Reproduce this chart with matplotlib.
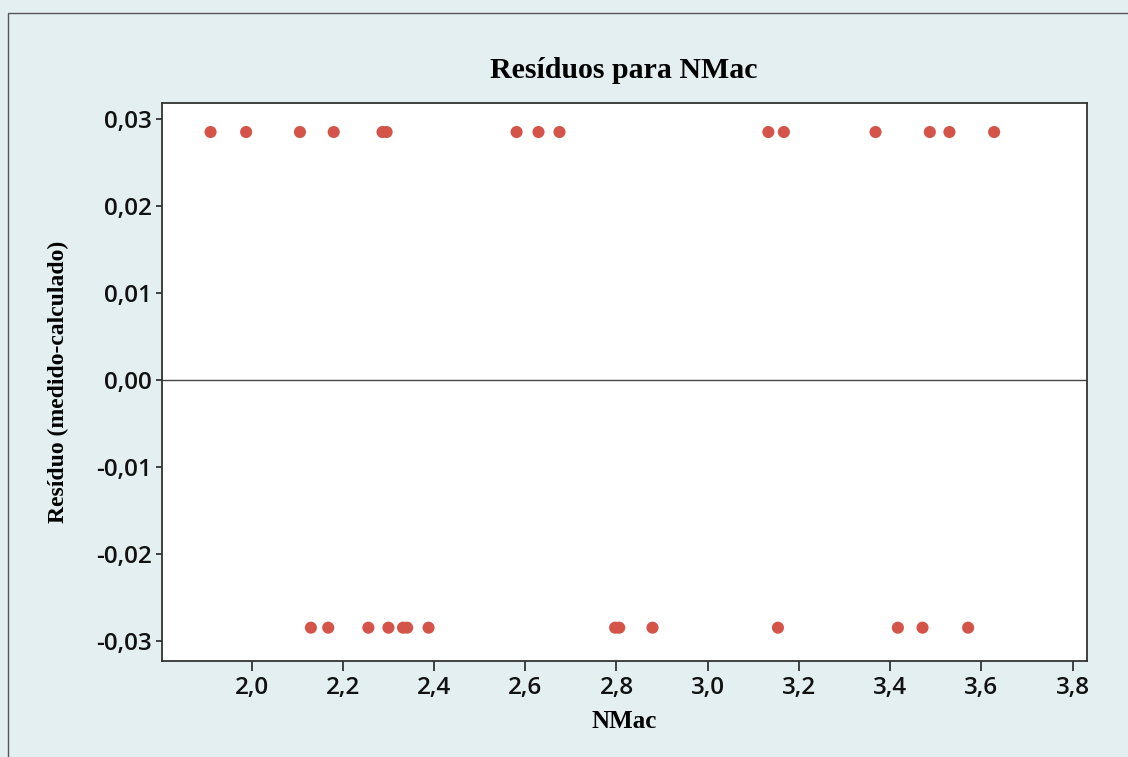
import matplotlib
matplotlib.use('Agg')
import matplotlib.pyplot as plt
from matplotlib.patches import Rectangle
from matplotlib.ticker import FuncFormatter

# data
nmac_pos = [1.910, 1.988, 2.106, 2.180, 2.287, 2.296, 2.581, 2.629, 2.675,
            3.133, 3.167, 3.368, 3.487, 3.530, 3.628]
res_pos = [0.0285] * len(nmac_pos)
nmac_neg = [2.130, 2.168, 2.256, 2.300, 2.332, 2.341, 2.388, 2.797, 2.806,
            2.879, 3.154, 3.417, 3.471, 3.571]
res_neg = [-0.0285] * len(nmac_neg)

x_ticks = [2.0, 2.2, 2.4, 2.6, 2.8, 3.0, 3.2, 3.4, 3.6, 3.8]
y_ticks = [-0.03, -0.02, -0.01, 0.0, 0.01, 0.02, 0.03]

bg = '#e4eff1'
dot = '#d5544a'

fig = plt.figure(figsize=(11.28, 7.57), dpi=100, facecolor=bg)
ax = fig.add_axes([0.1434, 0.1272, 0.82, 0.7363])

# outer frame of the scanned graph
fig.patches.append(Rectangle((8 / 1128, -0.05), 1.2, 1 - 12.7 / 757 + 0.05,
                             transform=fig.transFigure, fill=False,
                             edgecolor='#555555', linewidth=1.0))

ax.axhline(0, color='#444444', linewidth=1.0, zorder=1)
ax.scatter(nmac_pos, res_pos, s=76, color=dot, edgecolors='none', zorder=3)
ax.scatter(nmac_neg, res_neg, s=76, color=dot, edgecolors='none', zorder=3)

ax.set_xlim(1.803, 3.831)
ax.set_ylim(-0.0323, 0.0318)
ax.set_xticks(x_ticks)
ax.set_yticks(y_ticks)

comma = lambda fmt: FuncFormatter(lambda v, p: fmt.format(v).replace('.', ','))
ax.xaxis.set_major_formatter(comma('{:.1f}'))
ax.yaxis.set_major_formatter(comma('{:.2f}'))

for s in ax.spines.values():
    s.set_color('#333333')
    s.set_linewidth(1.3)

ax.tick_params(axis='x', direction='out', length=7, width=1.3, color='#333333', pad=4)
ax.tick_params(axis='y', direction='out', length=4, width=1.3, color='#333333', pad=3)
for lbl in ax.get_xticklabels() + ax.get_yticklabels():
    lbl.set_fontfamily('Open Sans')
    lbl.set_fontweight('semibold')
    lbl.set_fontsize(17.5)
    lbl.set_color('#111111')

fig.text(0.5532, 0.9075, 'Resíduos para NMac', ha='center', va='center',
         fontfamily='Liberation Serif', fontweight='bold', fontsize=21.5)
fig.text(0.5532, 1 - 722 / 757, 'NMac', ha='center', va='center',
         fontfamily='Liberation Serif', fontweight='bold', fontsize=18)
fig.text(58 / 1128, 1 - 382 / 757, 'Resíduo (medido-calculado)', ha='center',
         va='center', rotation=90, fontfamily='Liberation Serif',
         fontweight='bold', fontsize=17)

fig.savefig('out.png', dpi=100, facecolor=bg)
